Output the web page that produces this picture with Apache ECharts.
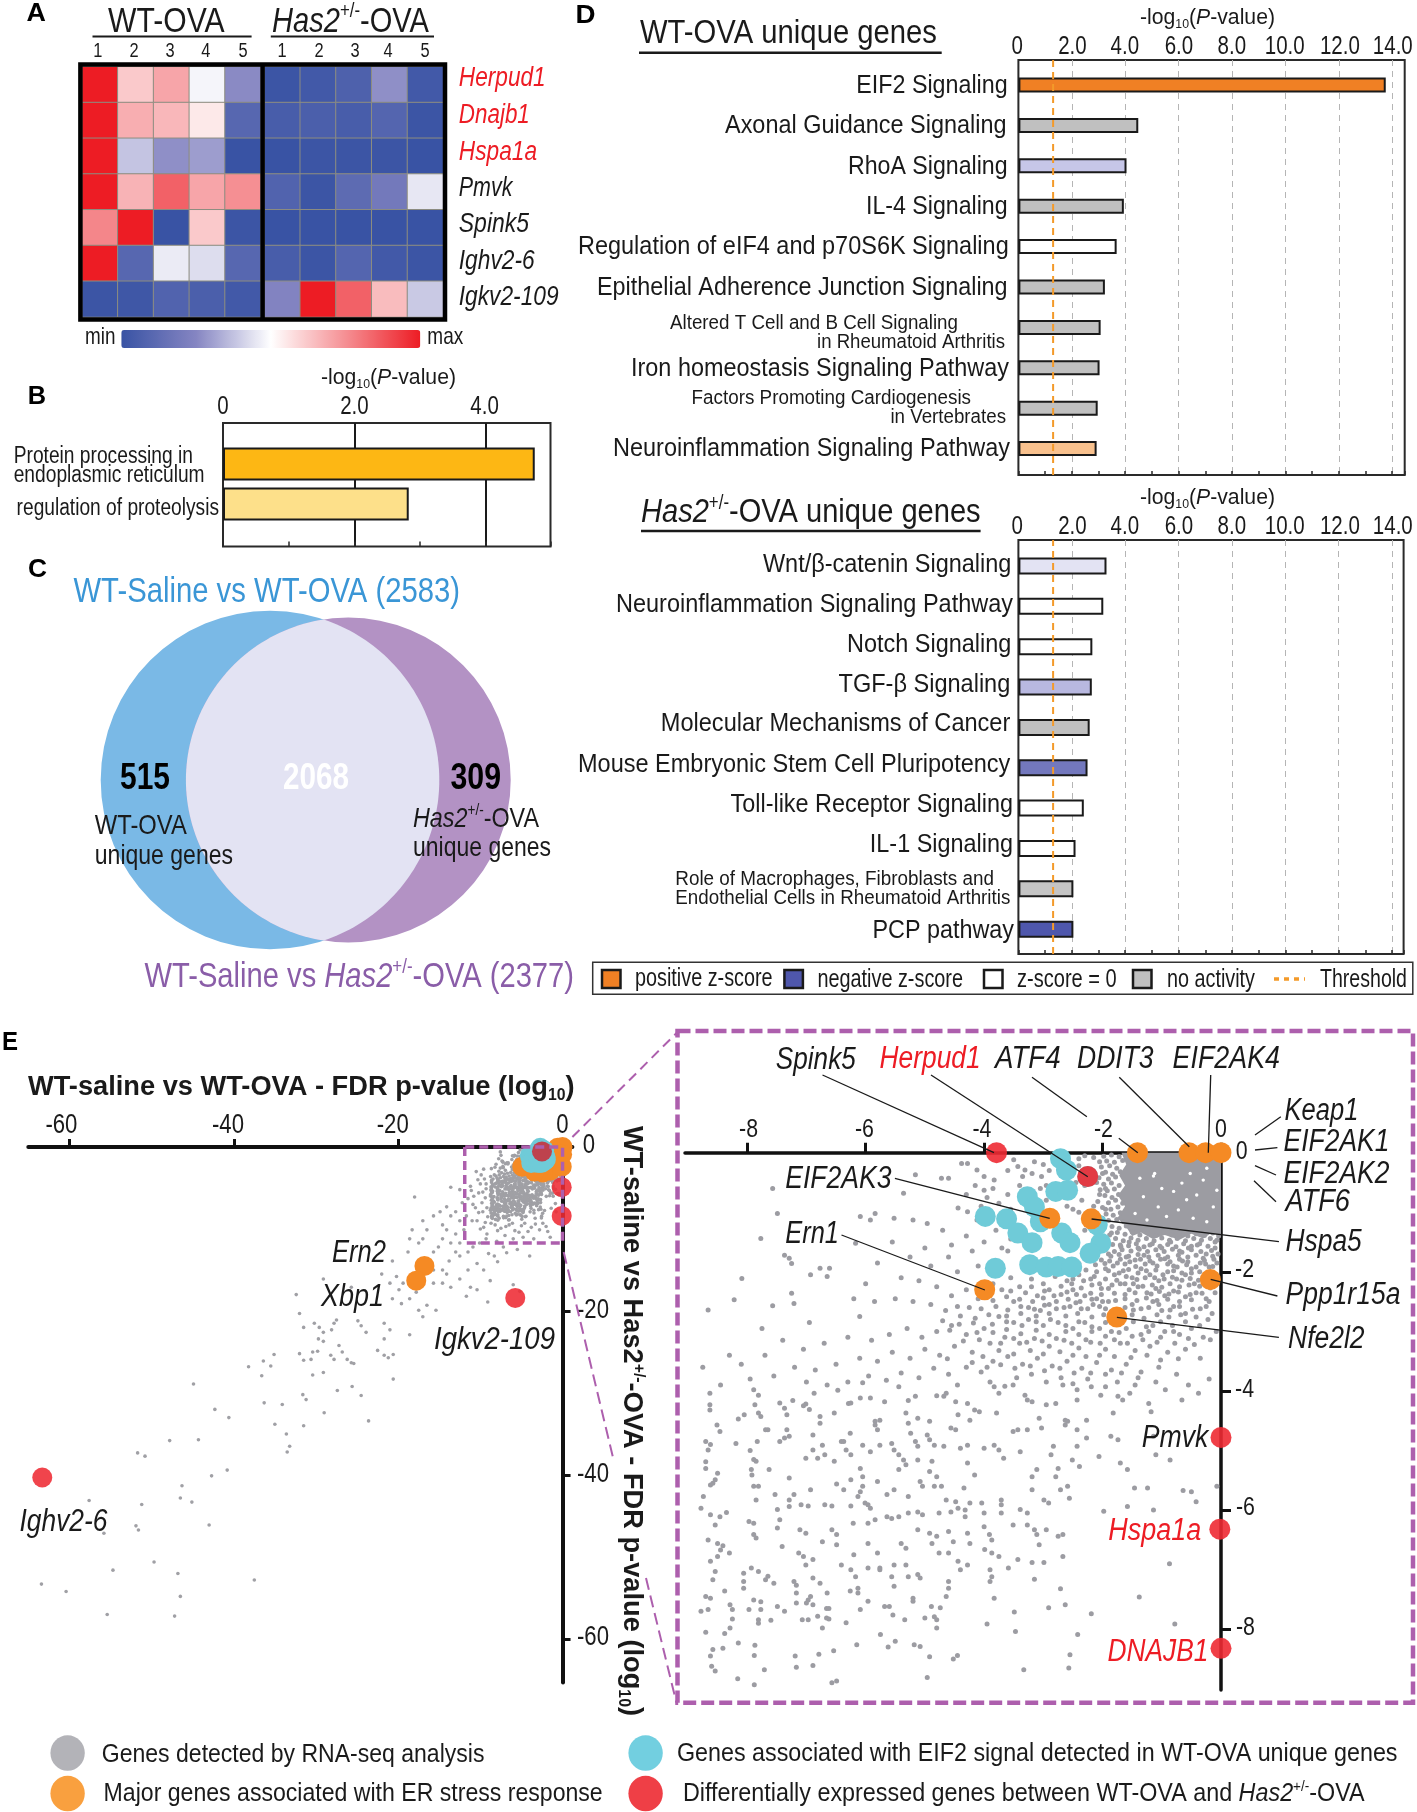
<!DOCTYPE html>
<html><head><meta charset="utf-8">
<style>html,body{margin:0;padding:0;background:#fff}#c{width:1417px;height:1812px}</style>
<script src="https://cdn.jsdelivr.net/npm/echarts@6/dist/echarts.min.js"></script>
</head><body><div id="c"></div>
<script>
// ---------- DATA ----------
const heatColumns = ['1','2','3','4','5'];
const heatGenes = ['Herpud1','Dnajb1','Hspa1a','Pmvk','Spink5','Ighv2-6','Igkv2-109'];
const heatRedGenes = ['Herpud1','Dnajb1','Hspa1a'];
const heatWT = [
 [1,.62,.70,.48,.26],[1,.68,.66,.55,.10],[1,.38,.27,.30,0],[1,.67,.85,.70,.75],
 [.77,1,0,.62,.01],[1,.10,.46,.43,.10],[.01,.02,.08,.06,.03]];
const heatHas2 = [
 [.01,.03,.07,.27,.03],[.05,.06,.05,.09,.01],[0,.01,.01,.01,0],[.08,.01,.12,.19,.45],
 [0,0,0,0,0],[.05,.01,.09,.03,.01],[.24,1,.85,.65,.39]];

const keggTerms = ['Protein processing in\nendoplasmic reticulum','regulation of proteolysis'];
const keggValues = [4.75,2.83];
const keggColors = ['#fdb714','#fde08a'];
const keggTicks = ['0','2.0','4.0'];

const vennTotals = [2583,2377];
const vennCounts = [515,2068,309];

const wtTerms = ['EIF2 Signaling','Axonal Guidance Signaling','RhoA Signaling','IL-4 Signaling','Regulation of eIF4 and p70S6K Signaling','Epithelial Adherence Junction Signaling','Altered T Cell and B Cell Signaling\nin Rheumatoid Arthritis','Iron homeostasis Signaling Pathway','Factors Promoting Cardiogenesis\nin Vertebrates','Neuroinflammation Signaling Pathway'];
const wtValues = [13.76,4.49,4.05,3.95,3.68,3.24,3.08,3.04,2.97,2.93];
const wtFill = ['#f08024','#c0c0c0','#c6c6e8','#c0c0c0','#ffffff','#c0c0c0','#c0c0c0','#c0c0c0','#c0c0c0','#f8c18e'];
const hasTerms = ['Wnt/β-catenin Signaling','Neuroinflammation Signaling Pathway','Notch Signaling','TGF-β Signaling','Molecular Mechanisms of Cancer','Mouse Embryonic Stem Cell Pluripotency','Toll-like Receptor Signaling','IL-1 Signaling','Role of Macrophages, Fibroblasts and\nEndothelial Cells in Rheumatoid Arthritis','PCP pathway'];
const hasValues = [3.30,3.18,2.77,2.75,2.67,2.59,2.45,2.14,2.06,2.06];
const hasFill = ['#e3e3f3','#ffffff','#ffffff','#b8b8e0','#c0c0c0','#7378bd','#ffffff','#ffffff','#c4c4c4','#4f57ac'];
const pathwayTicks = ['0','2.0','4.0','6.0','8.0','10.0','12.0','14.0'];
const threshold = 1.3;

const outerTicks = ['-60','-40','-20','0'];
const insetXTicks = ['-8','-6','-4','-2','0'];
const insetYTicks = ['0','-2','-4','-6','-8'];

const orangeGenes = [[-1.41,0],[-.54,0],[-.26,0],[0,0],[-2.89,-1.10],[-2.19,-1.11],[-3.99,-2.30],[-.18,-2.13],[-1.76,-2.76]];
const orangeOuter = [[-.6,-.1],[0,0],[-.05,-.9],[-.3,-2.3],[-1.5,-2.9],[-2.4,-3.1],[-3.4,-3],[-4.9,-2.4],[-.1,-2.4],[-16.8,-14.5],[-17.8,-16.3]];
const redGenes = [[-3.79,0],[-2.25,-.40],[0,-4.78],[-.02,-6.32],[0,-8.32]];
const redOuter = [[-.1,-4.9],[-.1,-8.4],[-5.75,-18.4],[-63.3,-40.3]];
const redMasked = [[-2.5,-.54]];
const cyanGenes = [[-2.71,-.10],[-2.61,-.29],[-2.25,-.40],[-2.79,-.65],[-2.59,-.63],[-3.27,-.74],[-3.15,-.91],[-3.98,-1.07],[-3.62,-1.11],[-3.05,-1.16],[-3.43,-1.35],[-3.19,-1.51],[-2.69,-1.35],[-2.55,-1.51],[-2.09,-1.21],[-2.03,-1.52],[-2.21,-1.69],[-3.81,-1.94],[-3.23,-1.88],[-2.95,-1.92],[-2.75,-1.91],[-2.52,-1.92]];
// solid mass of overlapping gene dots next to the origin, and the small gaps left in it
const denseGeneMass = [[-1.68,0],[0,0],[0,-1.42],[-.15,-1.34],[-.3,-1.44],[-.5,-1.36],[-.7,-1.46],[-.95,-1.38],[-1.15,-1.45],[-1.35,-1.34],[-1.5,-1.4],[-1.62,-1.22],[-1.75,-1.1],[-1.62,-.9],[-1.74,-.72],[-1.62,-.55],[-1.72,-.38],[-1.6,-.2]];
const denseMassGaps = [[-1.14,-.39],[-1.12,-.35],[-.8,-.65],[-.72,-.96],[-.47,-1.1],[-.24,-1.16],[-1.31,-.74],[-1.06,-.91],[-1.25,-1.13],[-.58,-.79],[-.3,-.46],[-.13,-.91],[-.07,-.63],[-1.37,-.43],[-.92,-1.07],[-.41,-.71],[-.66,-.51],[-1,-.6],[-1.45,-1.02],[-.24,-.26],[-.52,-.35]];
const genesFar = [[-63.4,-53.3],[-60.4,-54.2],[-55.4,-57],[-54.7,-51.6],[-49.7,-50.6],[-46.8,-52],[-46.5,-54.8],[-47.2,-57.2],[-37.5,-52.8],[-55.8,-47.1],[-51.9,-46.2],[-51.6,-46.7],[-43,-46.1],[-51.2,-43.6],[-45.1,-43.3],[-46.5,-42.8],[-46.3,-41.3],[-57.6,-43.1],[-42.7,-40.1],[-40.8,-39.4],[-51.7,-37.3],[-50.8,-37.7],[-47.8,-35.8],[-44.3,-35.7],[-42.3,-32],[-40.6,-33],[-44.9,-28.9],[-35,-33.8],[-36.3,-31.2],[-34.1,-31.4],[-33.6,-35],[-33.2,-36.5],[-33.5,-37.2],[-31.5,-34],[-29,-32.4],[-23.6,-33.4],[-31.6,-30.2],[-31.2,-30.8],[-27.4,-29.7],[-25.6,-29.2],[-24.5,-30.3],[-20.6,-28.3],[-38.2,-26.8],[-36.4,-26.1],[-35.5,-26.7],[-35.1,-25.3],[-36.6,-27.9],[-30.4,-27.8],[-29.1,-27.5],[-32,-25.2],[-31.5,-26],[-30.6,-25.9],[-30.4,-25],[-29.8,-24.9],[-28.2,-25.4],[-27.2,-24.2],[-26.8,-25],[-27.8,-25.9],[-26.2,-25.9],[-25.7,-26.3],[-25.4,-26.4],[-21.7,-25.4],[-21.2,-25.7],[-20.6,-25.3],[-32,-20.3],[-31.5,-22],[-30.2,-21.5],[-29.6,-22],[-29.1,-22.6],[-29.7,-23.4],[-29.1,-23.7],[-28.1,-22.3],[-27.8,-21.5],[-27.5,-21.1],[-24.9,-21.2],[-24.5,-21.8],[-23.9,-22.6],[-21.7,-21.5],[-21.7,-23.4],[-21,-22.3],[-22.5,-24.8],[-18.6,-22.9],[-32.4,-18],[-29.1,-16.1],[-25.7,-17.1],[-18.8,-12.8],[-18.6,-11.2],[-18.3,-10.1],[-18,-6.1],[-17,-9],[-16.5,-10.1],[-17.5,-11.7],[-17,-11.2],[-15.7,-8.4],[-14.9,-7.9],[-14.6,-9.5],[-13.6,-8.4],[-13.6,-4.9],[-14.1,-7.3],[-20.7,-13.9],[-20.2,-15.8],[-21,-16.6],[-22,-15.5],[-19.9,-17.4],[-20.7,-18.5],[-19.6,-19.1],[-18.6,-18.5],[-17.5,-19.9],[-17,-20.7],[-15.4,-19.9],[-16.5,-19.3],[-14.6,-15],[-14.1,-15.5],[-14.6,-16.6],[-13.8,-13.9],[-13,-12.8],[-12.5,-13.3],[-11.5,-12.8],[-10.9,-12.2],[-15.7,-12.8],[-15.1,-12.2],[-13.6,-11.7],[-12.5,-11.7],[-14.6,-11.2],[-11.5,-15],[-10.4,-14.2],[-11.2,-17.1],[-10.4,-17.4],[-9.1,-18.9],[-11.7,-18.2],[-7.2,-12.2],[-8.3,-13.3],[-10.1,-11.7],[-9.3,-11.2],[-15.7,-16.6],[-13.6,-17.1],[-12.5,-16.1],[-18.3,-17.1],[-17.8,-17.7],[-19.4,-16.6],[-15.7,-15],[-13,-10.6],[-12,-10.1],[-14.1,-10.1],[-12.5,-9],[-13,-7.9],[-11.7,-8.4],[-11.5,-6.3],[-12.2,-6.8],[-12.5,-5.2],[-10.5,-3],[-10,-4.5],[-9.6,-2.7],[-9.3,-5.1],[-10.8,-6],[-9.8,-6.8],[-9.2,-7.4],[-10.2,-8],[-11,-9],[-9.4,-9.2],[-10,-10],[-9.5,-3.9],[-11.2,-4.8],[-10.6,-7.4],[-9.1,-8.5],[-9.2,-10.6],[-8.2,-9.5],[-7.5,-9.9],[-6.5,-9.5],[-5.8,-10.2],[-5,-9.6],[-4.2,-10.3],[-3.3,-9.4],[-2.8,-10.1],[-7,-10.8],[-6,-11.2],[-4.8,-11],[-8,-11.5],[-3.5,-11.2],[-2,-9.7],[-1.5,-11],[-5.5,-12.5],[-6.8,-12.9],[-9,-13],[-4,-13.3],[-7.9,-14],[-9.6,-15],[-8.8,-16.3],[-6,-16.8],[-5.2,-17.6],[-10.2,-5.6],[-9.7,-7.9],[-10.4,-9],[-9.6,-9.8],[-10.9,-7],[-11.1,-5.3],[-9.4,-6.2],[-9.9,-3.4],[-10.3,-4],[-9.3,-4.5],[-9.7,-5.5],[-8.7,-9.3],[-7.9,-10.2],[-6.9,-9.7],[-6.1,-9.3],[-5.3,-10.4],[-4.6,-9.3],[-3.8,-9.8],[-2.4,-9.3],[-1.8,-10.3]];
const genesNearUpper = [[-4.38,-.18],[-4.28,-.18],[-4.12,-.29],[-4,-.4],[-3.83,-.46],[-3.43,-.23],[-3.31,-.29],[-3.19,-.35],[-3.03,-.4],[-3.35,-.4],[-5.16,-.37],[-7.57,-.6],[-4.72,-.43],[-4.6,-.43],[-5.36,-.68],[-4.44,-.93],[-4.28,-.99],[-4.12,-1.13],[-4,-.63],[-6.09,-1.07],[-5.84,-1.02],[-5.92,-1.13],[-5.52,-1.1],[-5.2,-1.13],[-4.96,-1.19],[-7.49,-1.02],[-7.77,-1.44],[-6.17,-1.52],[-7.37,-1.72],[-7.25,-1.86],[-7.29,-1.77],[-6.93,-2.05],[-6.77,-1.94],[-6.61,-1.94],[-6.65,-2.08],[-8.09,-2.11],[-8.22,-2.47],[-7.25,-2.36],[-7.21,-2.53],[-7.57,-2.57],[-8.66,-2.64],
[-3.6,-.3],[-3.5,-.12],[-3.15,-.15],[-3,-.2],[-2.9,-.3],[-2.4,-.1],[-2.3,-.05],[-2.15,-.08],[-2.05,-.15],[-2.4,-.22],[-2.2,-.3],[-2.45,-.5],[-2.3,-.55],[-2.1,-.5],[-2.05,-.7],[-2.35,-.8],[-2.5,-.95],[-2.6,-.9],[-2.15,-.9],[-2.4,-1],[-3.6,-.7],[-3.75,-.85],[-3.95,-.75],[-3.55,-.95],[-4.15,-.55],[-4.3,-.7],[-3.85,-.6],[-4.05,-.9],[-2.95,-.55],[-3.05,-.6],[-2.95,-.8],[-3.4,-.55],[-2,-1.1],[-2.05,-1.3],[-2.3,-1.3],[-2,-.35],[-1.95,-.6],[-1.95,-.95],[-3.55,-1.45],[-3.8,-1.3],[-4.3,-1.4],[-4.55,-1.55],[-4.7,-1.3],[-5,-1.6],[-5.25,-1.75],[-5.55,-1.5],[-5.8,-1.85],[-6,-2.2],[-4.9,-1.9],[-4.6,-1.75],[-4.2,-1.65],[-4,-1.5],[-3.7,-1.6],[-4.45,-2],[-4.1,-1.9],[-3.6,-1.65],
[-1.85,-1.35],[-1.7,-1.55],[-1.55,-1.5],[-1.4,-1.6],[-1.2,-1.55],[-1,-1.6],[-.85,-1.5],[-.7,-1.65],[-.55,-1.6],[-.4,-1.55],[-.25,-1.7],[-.1,-1.5],[-.05,-1.7],[-1.9,-1.7],[-1.75,-1.85],[-1.6,-1.75],[-1.45,-1.8],[-1.3,-1.72],[-1.15,-1.85],[-.95,-1.78],[-.8,-1.9],[-.65,-1.82],[-.5,-1.95],[-.35,-1.85],[-.2,-1.92],[-.07,-1.85],[-1.95,-1.95],[-1.8,-2.05],[-1.65,-1.98],[-1.5,-2.1],[-1.35,-1.95],[-1.2,-2.05],[-1.05,-2.15],[-.9,-2],[-.75,-2.12],[-.6,-2.05],[-.45,-2.2],[-.3,-2.1],[-.08,-2.05],[-2.4,-2.05],[-2.2,-2.12],[-2.05,-2.2],[-1.9,-2.28],[-1.7,-2.2],[-1.55,-2.3],[-1.4,-2.25],[-1.25,-2.35],[-1.1,-2.28],[-.95,-2.4],[-.8,-2.32],[-.6,-2.42],[-.42,-2.35],[-.25,-2.45],[-.1,-2.35],
[-2.6,-2.15],[-2.8,-2.08],[-3,-2.2],[-3.2,-2.12],[-3.4,-2.25],[-3.55,-2.1],[-3.7,-2.3],[-3.3,-2.35],[-3.1,-2.4],[-2.9,-2.3],[-2.7,-2.38],[-2.5,-2.3],[-2.3,-2.4],[-2.1,-2.45],[-2.9,-2.55],[-2.65,-2.6],[-2.45,-2.52],[-2.25,-2.62],[-2.05,-2.58],[-1.9,-2.5],[-1.5,-2.55],[-1.35,-2.62],[-1.15,-2.5],[-1,-2.65],[-.8,-2.58],[-.6,-2.7],[-.35,-2.62],[-.15,-2.7],[-3.5,-2.5],[-3.25,-2.6],[-3.05,-2.65],[-4.3,-2.3],[-4.55,-2.4],[-4.8,-2.25],[-5.1,-2.15],[-5.4,-2.1],[-4.9,-2.55],[-4.65,-2.65],[-4.25,-2.6],[-5.2,-2.5],[-5.5,-2.45],[-5.85,-2.5],[-6.2,-2.45],[-6.1,-2.75],
[-3.75,-2.75],[-3.5,-2.85],[-3.25,-2.8],[-3,-2.9],[-2.75,-2.85],[-2.5,-2.95],[-2.3,-2.85],[-2.05,-2.95],[-1.85,-3],[-1.6,-2.95],[-1.35,-3.05],[-1.15,-2.9],[-.95,-3],[-.7,-3.05],[-.5,-2.95],[-.3,-3.1],[-.08,-3],[-4,-2.95],[-4.3,-3.05],[-4.55,-2.9],[-4.8,-3],[-5.05,-3.1],[-5.3,-2.95],[-5.6,-3.05],[-5.9,-3.15],[-6.3,-3.1],[-6.7,-3.2],[-7.05,-3.3],[-7.4,-3.15],[-7.7,-3.4],[-8.1,-3.55],[-8.3,-3.4],[-8.75,-3.6],[-7.75,-2.95],[-6.95,-2.85],[-3.9,-3.2],[-3.65,-3.1],[-3.4,-3.2],[-3.15,-3.12],[-2.9,-3.25],[-2.65,-3.15],[-2.4,-3.28],[-2.2,-3.18],[-1.95,-3.3],[-1.7,-3.2],[-1.45,-3.32],[-1.2,-3.25],[-.9,-3.35],[-.6,-3.3],[-.35,-3.45],[-4.2,-3.35],[-4.5,-3.25],[-4.75,-3.4],[-5,-3.3],[-5.25,-3.45],[-5.55,-3.35],[-5.8,-3.5],[-6.1,-3.45],[-6.5,-3.55],[-6.85,-3.65],[-7.2,-3.6],[-7.55,-3.75],
[-3.85,-3.5],[-3.6,-3.42],[-3.35,-3.55],[-3.1,-3.45],[-2.85,-3.58],[-2.6,-3.5],[-2.35,-3.62],[-2.1,-3.52],[-1.85,-3.65],[-1.6,-3.55],[-1.35,-3.68],[-1.05,-3.6],[-.75,-3.72],[-.2,-3.8],[-4.05,-3.68],[-4.3,-3.6],[-4.6,-3.72],[-4.85,-3.62],[-5.1,-3.78],[-5.4,-3.7],[-5.65,-3.82],[-5.95,-3.75],[-6.3,-3.85],[-6.65,-3.9],[-7,-3.85],[-7.95,-3.8],[-8.45,-3.9],[-3.45,-3.78],[-3.2,-3.72],[-2.95,-3.85],[-2.7,-3.78],[-2.5,-3.88],[-2.25,-3.8],[-1.75,-3.85],[-1.45,-3.9],[-1.1,-3.85],[-.55,-3.9],[-4.45,-3.9],[-3.9,-3.85],[-3.65,-3.92]];
const genesNearLower = [[-8.63,-4.04],[-8.63,-4.23],[-8.63,-4.32],[-7.89,-3.98],[-7.87,-4.23],[-7.81,-4.07],[-8.05,-4.4],[-8.15,-4.47],[-7.81,-4.37],[-7.77,-4.43],[-7.45,-4.2],[-7.37,-4.29],[-7.33,-4.4],[-7.23,-4.16],[-7.05,-4.25],[-6.95,-4.31],[-7.01,-4.22],[-6.87,-4.04],[-6.77,-4.43],[-6.77,-4.54],[-6.47,-3.99],[-6.53,-4.37],[-6.29,-4.21],[-6.25,-4.2],[-6.05,-3.86],[-6.09,-4.12],[-5.92,-4.12],[-5.68,-4.18],[-5.76,-4.49],[-5.84,-4.51],[-5.44,-3.93],[-5.32,-4.37],[-5.28,-4.16],[-5.16,-4.09],[-5.12,-4.46],[-4.92,-4.51],[-4.8,-4.08],[-4.64,-4.04],[-4.68,-4.09],[-4.48,-4.18],[-4.44,-4.4],[-4.28,-4.21],[-4.24,-4.49],[-4.16,-4.32],[-4.08,-4.35],[-3.83,-3.93],[-3.79,-4.37],[-3.75,-4.04],[-3.51,-3.9],[-3.31,-4.07],[-3.27,-4.15],[-3.19,-4.18],[-3.07,-4.46],[-2.95,-4.23],[-2.79,-4.21],[-2.67,-3.9],[-2.63,-4.49],[-2.59,-4.51],[-2.43,-4.15],[-2.43,-3.98],[-2.27,-4.49],[-2.19,-3.93],[-2.03,-4.07],[-1.95,-3.93],[-1.74,-4.09],[-1.54,-4.04],[-1.82,-4.37],[-1.66,-4.15],[-1.22,-4.21],[-1.18,-4.35],[-.94,-3.98],[-.66,-4.15],[-.38,-4.04],
[-8.51,-4.57],[-8.46,-4.68],[-8.62,-4.9],[-8.7,-4.85],[-8.66,-4.99],[-8.7,-5.19],[-8.7,-5.3],[-8.5,-5.38],[-8.54,-5.49],[-8.62,-5.58],[-8.19,-4.88],[-7.83,-4.85],[-7.95,-5],[-7.89,-5.15],[-7.85,-5.18],[-7.63,-5.32],[-7.93,-5.32],[-7.92,-5.41],[-7.65,-4.65],[-7.69,-4.65],[-7.33,-4.65],[-7.29,-4.76],[-7.45,-4.85],[-7.37,-4.79],[-6.89,-4.74],[-7.01,-5.13],[-6.89,-4.99],[-6.73,-4.91],[-6.69,-5.07],[-6.81,-5.13],[-6.53,-5.18],[-6.37,-4.85],[-6.33,-4.99],[-6.25,-5.07],[-6.41,-4.85],[-6.26,-4.71],[-6.05,-4.91],[-5.92,-5.02],[-6.09,-5.3],[-6.05,-5.44],[-5.76,-4.91],[-5.8,-4.65],[-5.84,-4.57],[-5.56,-4.88],[-5.52,-4.99],[-5.44,-5.07],[-5.36,-5.16],[-5.32,-5.24],[-5.44,-5.32],[-5.24,-4.71],[-5.16,-4.85],[-5.12,-4.93],[-5.28,-4.54],[-5.12,-5.16],[-4.96,-4.74],[-4.92,-4.82],[-4.84,-4.91],[-4.88,-5.18],[-4.92,-5.35],[-4.8,-5.44],[-4.68,-4.93],[-4.56,-4.62],[-4.48,-4.65],[-4.4,-4.96],[-4.28,-4.91],[-4.28,-5.21],[-4.16,-5.41],[-4,-4.96],[-3.83,-4.91],[-3.75,-4.99],[-3.67,-5.13],[-3.51,-4.68],[-3.43,-4.65],[-3.39,-5.02],[-3.27,-4.65],[-3.03,-4.62],[-2.87,-5.07],[-2.83,-4.93],[-2.75,-5.3],[-2.79,-5.44],[-2.63,-4.57],[-2.43,-4.65],[-2.43,-4.93],[-2.39,-5.27],[-2.27,-4.79],[-2.51,-5.16],[-2.06,-5.1],[-1.86,-4.76],[-1.74,-4.82],[-1.7,-5.21],[-1.58,-5.32],[-1.1,-5.07],[-.86,-5.16],[-1.14,-4.76],[-3.11,-5.32],[-3.19,-5.44],
[-8.74,-5.77],[-8.58,-5.55],[-7.89,-5.6],[-7.81,-5.6],[-7.85,-5.83],[-7.53,-5.74],[-7.21,-5.74],[-7.29,-5.83],[-7.29,-5.46],[-6.93,-5.66],[-6.49,-5.56],[-6.37,-5.66],[-6.25,-5.49],[-6.05,-5.6],[-6.09,-5.69],[-6.13,-5.77],[-6.01,-5.88],[-5.8,-5.52],[-5.64,-5.74],[-5.52,-5.66],[-5.28,-5.77],[-5.08,-5.52],[-5.04,-5.6],[-4.84,-5.6],[-4.72,-5.6],[-4.34,-5.63],[-4.64,-5.83],[-4.48,-5.86],[-4.24,-5.88],[-4.04,-5.88],[-3.71,-5.83],[-3.71,-5.91],[-3.19,-5.66],[-2.99,-5.83],[-2.91,-5.88],[-2.71,-5.66],[-2.56,-5.8],[-2.59,-5.6],[-1.46,-5.63],[-1.24,-5.63],[-.64,-5.67],[-.5,-5.69],[-.42,-5.86],[-.07,-5.6],[-7.49,-5.99],[-7.29,-5.94],[-7.09,-5.91],[-6.97,-5.93],[-6.69,-5.91],[-6.57,-5.93],[-6.25,-5.93],[-5.96,-5.91],[-5.92,-5.97],
[-8.78,-5.97],[-8.62,-6.08],[-8.46,-6.11],[-8.35,-6.04],[-8.54,-6.25],[-7.97,-6.19],[-7.89,-6.22],[-7.89,-6.41],[-7.85,-6.47],[-7.49,-6.3],[-7.45,-6.16],[-7.11,-6.33],[-7.01,-6.39],[-6.73,-6.53],[-6.57,-6.33],[-6.49,-6.41],[-6.49,-6.58],[-7.41,-6.61],[-8.66,-6.5],[-8.5,-6.56],[-8.41,-6.6],[-8.45,-6.67],[-6.21,-6.22],[-5.96,-6.22],[-5.84,-6.16],[-5.64,-6.11],[-5.56,-6.14],[-5.44,-6.11],[-5.28,-6.05],[-5.12,-6.03],[-5.04,-6.08],[-4.76,-6.05],[-4.56,-6.03],[-4.32,-6],[-4.44,-5.97],[-4.32,-6.11],[-4,-6.05],[-3.71,-6.05],[-3.39,-5.99],[-3.27,-6.05],[-1.98,-6.02],[-1.58,-5.94],[-1.14,-6],[-5.96,-6.56],[-5.4,-6.56],[-5.32,-6.64],[-5.12,-6.33],[-4.92,-6.39],[-4.8,-6.44],[-4.88,-6.56],[-4.6,-6.36],[-4.52,-6.53],[-4.28,-6.39],[-4.24,-6.56],[-4,-6.28],[-3.91,-6.41],[-3.87,-6.5],[-3.51,-6.25],[-3.27,-6.25],[-3.15,-6.33],[-3.11,-6.41],[-2.95,-6.33],[-3.07,-6.58],[-2.75,-6.44],[-2.67,-6.41],
[-8.3,-6.72],[-8.5,-6.78],[-8.62,-6.86],[-7.13,-6.72],[-6.89,-6.83],[-7.01,-6.92],[-7.05,-6.78],[-8.54,-7.03],[-8.58,-7.17],[-8.06,-7.06],[-8.06,-7.2],[-8.06,-7.31],[-7.93,-6.97],[-7.81,-7.03],[-7.65,-7.11],[-7.69,-7.17],[-7.55,-7.23],[-7.21,-7.2],[-7.17,-7.26],[-6.89,-7.14],[-6.77,-7.23],[-6.65,-7.39],[-7.17,-7.39],[-6.93,-7.45],[-6.97,-7.51],[-6.2,-6.75],[-6.41,-6.92],[-6.25,-7],[-6.17,-7.12],[-5.96,-6.97],[-5.76,-6.97],[-5.56,-7.12],[-5.52,-6.92],[-5.32,-6.92],[-5.28,-7.12],[-5.12,-7.08],[-5.08,-7.14],[-5.76,-7],[-5.8,-6.72],[-4.6,-6.72],[-4.76,-6.72],[-4.44,-6.86],[-4.28,-6.92],[-4.4,-7],[-3.99,-6.66],[-3.87,-6.72],[-3.75,-6.78],[-3.9,-7],[-3.87,-7.12],[-3.9,-7.2],[-3.59,-6.97],[-3.43,-6.83],[-3.19,-6.88],[-2.99,-6.88],[-2.67,-6.78],[-3.15,-7.16],[-4.6,-7.2],[-4.6,-7.31],[-4.64,-7.45],[-6.13,-7.31],[-6.13,-7.39],[-6.26,-7.36],[-5.52,-7.28],[-5.2,-7.48],[-2.71,-7.32],[-.87,-6.9],[-1.38,-7.46],[-3.83,-7.48],
[-8.7,-7.45],[-8.62,-7.48],[-8.38,-7.36],[-8.78,-7.7],[-8.66,-7.67],[-8.29,-7.59],[-8.25,-7.67],[-8.25,-7.83],[-8.29,-7.98],[-8.38,-8.07],[-8.7,-8.05],[-7.97,-7.67],[-7.89,-7.51],[-7.77,-7.54],[-7.77,-7.67],[-7.81,-7.84],[-7.81,-7.9],[-7.6,-7.85],[-7.37,-7.7],[-7.49,-7.62],[-7.17,-7.56],[-7,-7.56],[-6.89,-7.59],[-6.66,-7.65],[-6.62,-7.65],[-7.07,-7.84],[-6.97,-7.84],[-6.81,-7.78],[-6.66,-7.81],[-6.62,-7.83],[-6.73,-7.98],[-6.33,-7.89],[-6.09,-7.67],[-5.96,-7.53],[-5.68,-7.62],[-5.6,-7.62],[-5.54,-7.76],[-5.34,-7.84],[-5.2,-7.53],[-5,-7.81],[-4.84,-7.79],[-4.8,-7.84],[-4.8,-7.98],[-4.89,-7.62],[-4.74,-7.64],[-3.95,-7.91],[-3.49,-7.71],[-3.47,-8.04],[-2.91,-7.64],[-2.63,-7.59],[-2.19,-7.74],[-2.42,-8.09],[-.78,-7.91],
[-8.58,-8.34],[-8.41,-8.32],[-8.62,-8.45],[-8.6,-8.62],[-8.54,-8.7],[-8.15,-8.23],[-8.16,-8.83],[-7.87,-8.27],[-7.88,-8.44],[-7.88,-8.93],[-7.71,-8.68],[-7.19,-8.45],[-7.17,-8.64],[-6.89,-8.61],[-6.79,-8.42],[-6.54,-8.36],[-6.57,-8.9],[-6.49,-8.87],[-6.15,-8.26],[-5.75,-8.09],[-5.62,-8.3],[-5.5,-8.2],[-5.18,-8.26],[-5.08,-8.29],[-4.92,-8.46],[-4.96,-8.81],[-4.52,-8.5],[-4.45,-8.44],[-3.33,-8.68],[-2.55,-8.43],[-2.57,-8.65]];
const genesCorner = [[-1.98,-.06],[-1.85,-.04],[-1.72,-.07],[-1.93,-.14],[-1.8,-.16],[-1.66,-.13],[-2.02,-.24],[-1.88,-.22],[-1.76,-.26],[-1.95,-.33],[-1.83,-.36],[-1.7,-.32],[-2.06,-.42],[-1.9,-.44],[-1.78,-.41],[-1.98,-.53],[-1.85,-.51],[-1.72,-.55],[-2.04,-.62],[-1.92,-.64],[-1.8,-.61],[-1.96,-.72],[-1.84,-.75],[-1.73,-.7],[-2.08,-.82],[-1.9,-.84],[-1.78,-.8],[-1.66,-.85],[-2,-.92],[-1.86,-.95],[-1.74,-.91],[-1.94,-1.03],[-1.82,-1.05],[-1.7,-1.01],[-1.9,-1.14],[-1.76,-1.12],[-1.64,-1.16],[-1.84,-1.24],[-1.72,-1.27],[-1.6,-1.23],[-1.48,-1.26],
[-1.88,-1.38],[-1.75,-1.34],[-1.62,-1.37],[-1.5,-1.33],[-1.37,-1.38],[-1.23,-1.35],[-1.1,-1.39],[-.97,-1.34],[-.83,-1.38],[-.7,-1.35],[-.56,-1.4],[-.42,-1.36],[-.28,-1.39],[-.14,-1.35],[-.04,-1.4],[-1.92,-1.47],[-1.78,-1.44],[-1.65,-1.48],[-1.52,-1.43],[-1.4,-1.47],[-1.26,-1.44],[-1.13,-1.48],[-1,-1.43],[-.87,-1.47],[-.74,-1.44],[-.6,-1.48],[-.46,-1.44],[-.33,-1.47],[-.18,-1.44],[-.07,-1.47],[-1.83,-1.54],[-1.69,-1.58],[-1.56,-1.56],[-1.43,-1.53],[-1.3,-1.58],[-1.16,-1.53],[-1.03,-1.57],[-.9,-1.54],[-.76,-1.58],[-.63,-1.53],[-.5,-1.57],[-.36,-1.53],[-.22,-1.57],[-.1,-1.6],[-1.95,-1.63],[-1.8,-1.66],[-1.67,-1.63],[-1.52,-1.65],[-1.38,-1.62],[-1.24,-1.66],[-1.1,-1.63],[-.96,-1.66],[-.82,-1.62],[-.66,-1.67],[-.5,-1.63],[-.34,-1.66],[-.16,-1.64],
[-1.86,-1.74],[-1.72,-1.71],[-1.56,-1.74],[-1.4,-1.71],[-1.22,-1.75],[-1.06,-1.72],[-.9,-1.75],[-.72,-1.72],[-.56,-1.75],[-.42,-1.72],[-.3,-1.77],[-.14,-1.74],[-2.02,-1.8],[-1.88,-1.82],[-1.7,-1.79],[-1.54,-1.83],[-1.36,-1.79],[-1.2,-1.82],[-1.02,-1.79],[-.86,-1.83],[-.7,-1.79],[-.56,-1.83],[-.28,-1.81],[-.12,-1.79],[-2.4,-1.86],[-2.12,-1.88],[-1.96,-1.86],[-1.82,-1.9],[-1.62,-1.87],[-1.44,-1.91],[-1.28,-1.87],[-1.08,-1.9],[-.9,-1.87],[-.74,-1.92],[-.58,-1.88],[-.42,-1.92],[-.26,-1.87],[-.14,-1.91],[-2.28,-1.97],[-2.1,-2],[-1.9,-1.98],[-1.72,-2.02],[-1.56,-1.96],[-1.4,-2.02],[-1.26,-1.98],[-1.1,-1.97],[-.98,-2.05],[-.8,-1.98],[-.66,-2.02],[-.5,-2.02],[-.36,-2],[-.18,-2.03],
[-2.5,-2.12],[-2.32,-2.15],[-2.14,-2.08],[-1.95,-2.12],[-1.76,-2.14],[-1.6,-2.08],[-1.42,-2.13],[-1.28,-2.1],[-1.12,-2.1],[-.96,-2.12],[-.82,-2.09],[-.66,-2.14],[-.52,-2.11],[-.38,-2.14],[-.22,-2.16],[-2.7,-2.24],[-2.52,-2.2],[-2.36,-2.27],[-2.18,-2.22],[-2.02,-2.28],[-1.84,-2.22],[-1.62,-2.2],[-1.48,-2.2],[-1.32,-2.24],[-1.16,-2.22],[-1,-2.26],[-.86,-2.2],[-.7,-2.25],[-.54,-2.22],[-.36,-2.24],[-.18,-2.27],[-3.85,-2.2],[-3.55,-2.32],[-3.2,-2.25],[-2.98,-2.32],[-2.82,-2.4],[-2.6,-2.34],[-2.44,-2.38],[-2.2,-2.36],[-2.02,-2.38],[-1.8,-2.36],[-1.62,-2.38],[-1.45,-2.35],[-1.18,-2.37],[-1.04,-2.33],[-.88,-2.37],[-.72,-2.34],[-.52,-2.38],[-.32,-2.36],
[-4.1,-2.45],[-3.85,-2.48],[-3.62,-2.42],[-3.4,-2.46],[-3.18,-2.5],[-3,-2.44],[-2.78,-2.5],[-2.58,-2.46],[-2.38,-2.5],[-2.18,-2.46],[-2,-2.5],[-1.78,-2.48],[-1.62,-2.45],[-1.42,-2.48],[-1.26,-2.44],[-1.08,-2.48],[-.9,-2.46],[-.7,-2.5],[-.5,-2.47],[-.2,-2.5],[-4.45,-2.58],[-4.05,-2.62],[-3.8,-2.58],[-3.6,-2.64],[-3.38,-2.58],[-3.15,-2.63],[-2.98,-2.56],[-2.78,-2.62],[-2.55,-2.58],[-2.36,-2.62],[-2.16,-2.55],[-1.95,-2.62],[-1.62,-2.6],[-1.48,-2.64],[-1.22,-2.6],[-1.05,-2.55],[-.86,-2.64],[-.7,-2.58],[-.48,-2.63],[-.25,-2.58],
[-4.4,-2.74],[-4.15,-2.78],[-3.92,-2.72],[-3.62,-2.74],[-3.38,-2.7],[-3.12,-2.74],[-2.9,-2.7],[-2.62,-2.74],[-2.42,-2.7],[-2.18,-2.76],[-1.98,-2.72],[-1.5,-2.72],[-1.3,-2.78],[-1.08,-2.72],[-.88,-2.76],[-.68,-2.72],[-.42,-2.76],[-.22,-2.8],[-4.7,-2.82],[-4.42,-2.88],[-4.18,-2.86],[-3.86,-2.88],[-3.62,-2.84],[-3.36,-2.9],[-3.12,-2.84],[-2.88,-2.8],[-2.62,-2.9],[-2.4,-2.84],[-2.18,-2.92],[-1.95,-2.85],[-1.72,-2.88],[-1.48,-2.84],[-1.26,-2.92],[-1.02,-2.84],[-.82,-2.9],[-.6,-2.84],[-.36,-2.9],
[-4.58,-2.98],[-4.12,-3.02],[-3.85,-3.02],[-3.62,-2.97],[-3.38,-3.04],[-3.12,-2.98],[-2.9,-3.05],[-2.62,-3],[-2.4,-3.05],[-2.18,-3],[-1.95,-3.08],[-1.72,-3.02],[-1.5,-3.08],[-1.22,-3],[-1.02,-3.1],[-.8,-3],[-.55,-3.12],[-.18,-3.14],[-4.35,-3.16],[-4.08,-3.14],[-3.72,-3.2],[-3.5,-3.12],[-3.28,-3.18],[-3.02,-3.16],[-2.78,-3.12],[-2.52,-3.2],[-2.28,-3.14],[-2.04,-3.2],[-1.8,-3.14],[-1.58,-3.2],[-1.32,-3.14],[-1.08,-3.18],[-.78,-3.2],[-.45,-3.22],
[-4.62,-3.46],[-4.02,-3.42],[-3.75,-3.32],[-3.5,-3.38],[-3.22,-3.32],[-3,-3.38],[-2.72,-3.34],[-2.5,-3.4],[-2.28,-3.42],[-2.05,-3.4],[-1.8,-3.42],[-1.52,-3.44],[-1.25,-3.4],[-1.02,-3.48],[-.72,-3.46],[-4.2,-3.52],[-3.95,-3.6],[-3.72,-3.56],[-3.48,-3.62],[-3.22,-3.58],[-2.98,-3.66],[-2.72,-3.62],[-2.48,-3.7],[-2.2,-3.7],[-1.95,-3.72],[-1.68,-3.7],[-1.4,-3.78]];
const genesNear = genesNearUpper.concat(genesCorner,genesNearLower);
const genesAll = genesFar.concat(genesNear);

// ---------- STYLE ----------
const SANS = '"Liberation Sans",Arial,sans-serif';
const INK = '#1a1a1a', PURPLE='#ad5fad';
const TEXT_DY = 3;
const ctx = document.createElement('canvas').getContext('2d');
function meas(t,size,w,s){ctx.font=`${s||'normal'} ${w||'normal'} ${size}px "Liberation Sans"`;return ctx.measureText(t).width;}
const G = [];
function T(str,x0,x1,yc,size,o={}){
  const m = meas(str,size,o.weight,o.italic?'italic':'');
  G.push({type:'text',x:x0,y:yc+TEXT_DY,scaleX:(x1-x0)/m,z:100,silent:true,style:{text:str,x:0,y:0,fontFamily:SANS,fontSize:size,fontWeight:o.weight||'normal',fontStyle:o.italic?'italic':'normal',fill:o.color||INK,align:'left',verticalAlign:'middle',textAlign:'left',textVerticalAlign:'middle'}});
}
function TC(str,xc,yc,size,sx=.82){const w=meas(str,size)*sx;T(str,xc-w/2,xc+w/2,yc,size);}
function RT(segs,x0,x1,yc,size,o={}){
  const w=o.weight||'normal', col=o.color||INK, small=size*.58;
  let m=0, str='';
  segs.forEach(([t,k])=>{m+=meas(t,(k==='s'||k==='b')?small:size,w,k==='i'?'italic':'');str+=`{${k}|${t}}`;});
  const base={fontFamily:SANS,fontWeight:w,fill:col,lineHeight:size*1.15};
  G.push({type:'text',x:x0,y:o.rot?yc:yc+TEXT_DY,scaleX:(x1-x0)/m,rotation:o.rot||0,z:100,silent:true,style:{text:str,x:0,y:0,fontFamily:SANS,fontSize:size,align:'left',verticalAlign:'middle',textAlign:'left',textVerticalAlign:'middle',rich:{
    n:{...base,fontSize:size,verticalAlign:'middle'},
    i:{...base,fontSize:size,fontStyle:'italic',verticalAlign:'middle'},
    s:{...base,fontSize:small,verticalAlign:'top'},
    b:{...base,fontSize:small,verticalAlign:'bottom'}}}});
}
function L(x1,y1,x2,y2,o={}){G.push({type:'line',z:o.z||100,silent:true,shape:{x1,y1,x2,y2},style:{stroke:o.color||INK,lineWidth:o.w||1.3,lineDash:o.dash||null}});}
function R(x,y,w,h,o={}){G.push({type:'rect',z:o.z||100,silent:true,shape:{x,y,width:w,height:h},style:{fill:o.fill||'none',stroke:o.stroke||INK,lineWidth:o.w==null?2:o.w,lineDash:o.dash||null}});}
function C(cx,cy,rx,ry,fill){G.push({type:'ellipse',z:100,silent:true,shape:{cx,cy,rx,ry},style:{fill}});}

const grids=[],xAxes=[],yAxes=[],series=[];
function addGrid(g,x,y){grids.push(Object.assign({containLabel:false},g));const i=grids.length-1;x.gridIndex=i;y.gridIndex=i;xAxes.push(x);yAxes.push(y);return {g:i,x:xAxes.length-1,y:yAxes.length-1};}
const hiddenV=(min,max,extra)=>Object.assign({type:'value',show:false,min,max,splitLine:{show:false}},extra||{});

// ---------- A heatmaps ----------
function heatPanel(left,rows){
  const a=addGrid({left,top:66.8,width:178.7,height:250.2},
    {type:'category',data:heatColumns,position:'top',axisLine:{show:false},axisTick:{show:false},splitLine:{show:false},axisLabel:{show:false}},
    {type:'category',data:heatGenes,inverse:true,axisLine:{show:false},axisTick:{show:false},splitLine:{show:false},axisLabel:{show:false}});
  const data=[];rows.forEach((r,j)=>r.forEach((v,i)=>data.push([i,j,v])));
  series.push({type:'heatmap',xAxisIndex:a.x,yAxisIndex:a.y,data,silent:true,itemStyle:{borderColor:'#8d8d80',borderWidth:1},progressive:0,animation:false});
}
heatPanel(82.1,heatWT);
heatPanel(264.5,heatHas2);

// ---------- shared bar-panel ----------
function barPanel(fr,inner,max,majorStep,terms,values,fills,barH,tickLen,gridCol,gridType,hasThreshold){
  const frame=addGrid({show:true,left:fr.left,top:fr.top,width:fr.width,height:fr.height,borderColor:'#2a2a2a',borderWidth:2,backgroundColor:'transparent'},
    {type:'value',position:'top',min:0,max,interval:1,
     axisLine:{show:false},axisTick:{show:true,length:tickLen,lineStyle:{color:'#2a2a2a',width:1.5}},splitLine:{show:false},axisLabel:{show:false}},
    hiddenV(0,1));
  xAxes.push({type:'value',gridIndex:frame.g,position:'bottom',min:0,max,interval:majorStep,axisLine:{show:false},axisTick:{show:false},axisLabel:{show:false},
     splitLine:{show:true,showMinLine:false,showMaxLine:false,lineStyle:{color:gridCol,type:gridType,width:gridType==='solid'?2:1}}});
  const bars=addGrid({left:fr.left,top:inner.top,width:fr.width,height:inner.height},
    hiddenV(0,max),
    {type:'category',inverse:true,data:terms,axisLine:{show:false},axisTick:{show:false},splitLine:{show:false},axisLabel:{show:false}});
  series.push({type:'bar',xAxisIndex:bars.x,yAxisIndex:bars.y,barWidth:barH,silent:true,z:3,animation:false,
    data:values.map((v,i)=>({value:v,itemStyle:{color:fills[i],borderColor:'#1a1a1a',borderWidth:2}}))});
  if(hasThreshold){
    series.push({type:'line',xAxisIndex:frame.x,yAxisIndex:frame.y,symbol:'none',silent:true,z:6,animation:false,
      data:[[threshold,0],[threshold,1]],lineStyle:{color:'#f39a2a',width:2,type:[7,5]}});
  }
}
barPanel({left:223,top:423,width:327.5,height:123.4},{top:444,height:80},4.99,2,keggTerms,keggValues,keggColors,33,5,'#1a1a1a','solid',false);
barPanel({left:1018.4,top:60,width:386.3,height:415},{top:64.8,height:404},14.47,2,wtTerms,wtValues,wtFill,15,4,'#b5b5b5',[6,5],true);
barPanel({left:1018.4,top:540,width:385.2,height:414},{top:545.8,height:403.5},14.43,2,hasTerms,hasValues,hasFill,17,4,'#b5b5b5',[6,5],true);

// ---------- C venn ----------
const vennK = 3.331;
const vennGeo = [[170,180,vennTotals[0]],[248.3,180,vennTotals[1]]];
const venn=addGrid({left:100,top:600,width:420,height:360},hiddenV(0,420),hiddenV(0,360));
series.push({type:'custom',xAxisIndex:venn.x,yAxisIndex:venn.y,coordinateSystem:'cartesian2d',silent:true,z:2,animation:false,data:vennGeo,
  renderItem:function(p,api){
    const c=api.coord([api.value(0),api.value(1)]),r=vennK*Math.sqrt(api.value(2));
    const isL=p.dataIndex===0;
    const circ={type:'circle',shape:{cx:c[0],cy:c[1],r},style:{fill:isL?'#7ab9e6':'#b392c4'}};
    if(isL) return circ;
    const a0=api.coord([vennGeo[0][0],vennGeo[0][1]]),r0=vennK*Math.sqrt(vennGeo[0][2]);
    const d=c[0]-a0[0],a=(d*d+r0*r0-r*r)/(2*d),h=Math.sqrt(r0*r0-a*a);
    const angR=Math.atan2(h,a-d),angL=Math.atan2(h,a),pts=[];
    for(let i=0;i<=90;i++){const t=angR+(2*Math.PI-2*angR)*i/90;pts.push([c[0]+r*Math.cos(t),c[1]+r*Math.sin(t)]);}
    for(let i=0;i<=90;i++){const t=-angL+2*angL*i/90;pts.push([a0[0]+r0*Math.cos(t),a0[1]+r0*Math.sin(t)]);}
    return {type:'group',children:[circ,{type:'polygon',shape:{points:pts},style:{fill:'#e3e3f3'}}]};
  }});

// ---------- E scatter panels ----------
function scatterPanel(grid,xr,yr,xt,yt,tick,lineW,pts,ptSize,ptColor,mark,layers,gaps){
  const p=addGrid(grid,
    {type:'value',position:'top',min:xr[0],max:xr[1],axisLine:{show:true,onZero:true,lineStyle:{color:'#111',width:lineW}},
     axisTick:{show:true,customValues:xt,length:tick,lineStyle:{color:'#111',width:3}},splitLine:{show:false},axisLabel:{show:false}},
    {type:'value',position:'right',min:yr[0],max:yr[1],axisLine:{show:true,onZero:true,lineStyle:{color:'#111',width:lineW}},
     axisTick:{show:true,customValues:yt,length:tick,lineStyle:{color:'#111',width:3}},splitLine:{show:false},axisLabel:{show:false}});
  series.push({type:'custom',xAxisIndex:p.x,yAxisIndex:p.y,coordinateSystem:'cartesian2d',silent:true,z:1,animation:false,clip:false,data:denseGeneMass,
    renderItem:function(q,api){ if(q.dataIndex!==0) return null;
      return {type:'polygon',shape:{points:denseGeneMass.map(d=>api.coord(d))},style:{fill:ptColor}};}});
  series.push({type:'scatter',xAxisIndex:p.x,yAxisIndex:p.y,data:pts,symbolSize:ptSize,silent:true,z:2,clip:false,animation:false,itemStyle:{color:ptColor,opacity:1}});
  if(gaps) series.push({type:'scatter',xAxisIndex:p.x,yAxisIndex:p.y,data:gaps,symbolSize:3.4,silent:true,z:2,clip:false,animation:false,itemStyle:{color:'#fff',opacity:1}});
  layers.forEach((l,i)=>series.push({type:'scatter',xAxisIndex:p.x,yAxisIndex:p.y,data:l[0],symbolSize:mark,silent:true,z:3+i,clip:false,animation:false,itemStyle:{color:l[1],opacity:l[2]}}));
  return p;
}
const outerP=scatterPanel({left:28.3,top:1147,width:544.1,height:535.5},[-65,1.2],[-65.3,0],[-60,-40,-20,0],[-60,-40,-20,0],8,4,genesAll,3.6,'#a0a0a5',20,
  [[orangeOuter,'#f58a24',1],[cyanGenes,'#6fcbd8',1],[redMasked,'#c23a46',.95],[redOuter,'#ee2a33',.88]]);
series.push({type:'line',xAxisIndex:outerP.x,yAxisIndex:outerP.y,symbol:'none',silent:true,z:7,animation:false,clip:false,
  data:[[-11.9,0],[-11.9,-11.7],[0,-11.7],[0,0],[-11.9,0]],lineStyle:{color:PURPLE,width:3.5,type:[9,5]}});
scatterPanel({left:685,top:1152.7,width:536,height:537.3},[-9.05,0],[-9.02,0],[-8,-6,-4,-2,0],[-8,-6,-4,-2,0],10,3.5,genesNear,5,'#9c9ca2',21,
  [[cyanGenes,'#6fcbd8',1],[orangeGenes,'#f58a24',1],[redGenes,'#ee2a33',.9]],denseMassGaps);

// ---------- TEXT ----------
T('A',26.6,46,11.3,26,{weight:'bold',color:'#000'});
T('B',27.7,46,393.4,26,{weight:'bold',color:'#000'});
T('C',28,47,567,26,{weight:'bold',color:'#000'});
T('D',575.4,595.4,13,26,{weight:'bold',color:'#000'});
T('E',2,18,1040,26,{weight:'bold',color:'#000'});
T('WT-OVA',108,224.6,19,35);
RT([['Has2','i'],['+/-','s'],['-OVA','n']],272,429,19,35);
L(92.5,36.4,251.6,36.4,{w:2});L(270.8,36.4,434,36.4,{w:2});
R(80.4,64.5,364.6,254.9,{w:4.5,stroke:'#000'});
L(262.6,64.5,262.6,319,{w:4.5,color:'#000'});
[97.7,134,170,205.7,243].forEach((x,i)=>TC(heatColumns[i],x,48,20));
[282,319,355,388,425].forEach((x,i)=>TC(heatColumns[i],x,48,20));
[[458.8,545.7,76.8],[458.8,529.8,113],[458.8,537,150],[458.8,512.4,186.4],[458.8,529,222.5],[458.8,534.6,259],[458.8,558.6,295]].forEach((b,i)=>T(heatGenes[i],b[0],b[1],b[2]-1,27,{italic:true,color:heatRedGenes.includes(heatGenes[i])?'#ed1c24':INK}));
T('min',85,115.4,334,24);T('max',427.3,463.2,334,24);
// B
const logSegs=[['-log','n'],['10','b'],['(','n'],['P','i'],['-value)','n']];
RT(logSegs,321,456,375,22);
[223,354.4,484.6].forEach((x,i)=>TC(keggTicks[i],x,404,25));
const keggLines=keggTerms.join('\n').split('\n');
[[13.7,193,454],[13.7,204.6,473],[16.6,219,506]].forEach((b,i)=>T(keggLines[i],b[0],b[1],b[2],23));
// C
T('WT-Saline vs WT-OVA (2583)',73.5,460,589.7,35,{color:'#3a96d6'});
RT([['WT-Saline vs ','n'],['Has2','i'],['+/-','s'],['-OVA (2377)','n']],144.5,574,974.7,35,{color:'#8a5da8'});
T(String(vennCounts[0]),120,170,776,37,{weight:'bold',color:'#000'});
T(String(vennCounts[1]),283,349,776,37,{weight:'bold',color:'#fff'});
T(String(vennCounts[2]),450.5,501,776,37,{weight:'bold',color:'#000'});
T('WT-OVA',94.8,186.8,823,28);T('unique genes',94.8,233,853,28);
RT([['Has2','i'],['+/-','s'],['-OVA','n']],413,539,816,28);T('unique genes',413,551,845,28);
// D
T('WT-OVA unique genes',640,937,31,34);L(639,52.7,941.7,52.7,{w:2.5});
RT(logSegs,1140,1275,15,22);
RT([['Has2','i'],['+/-','s'],['-OVA unique genes','n']],641,980.6,509.7,34);L(641,531,980.6,531,{w:2.5});
RT(logSegs,1140,1275,495,22);
[1017.3,1072.4,1124.8,1178.9,1231.8,1284.7,1339.9,1392.8].forEach((x,i)=>{TC(pathwayTicks[i],x,44,25);TC(pathwayTicks[i],x,524,25);});
const wtLines=wtTerms.join('\n').split('\n');
[[856.3,1007.6,85],[725,1006.5,124.3],[848,1007.6,165.7],[866,1007.6,205.7],[578,1008.7,246],[597,1007.6,286.7],[670,958,321.7,20],[817,1005,340.7,20],[631,1009,367.3],[691.6,971,396.7,20],[890.4,1006,416,20],[613,1010,447.7]].forEach((b,i)=>T(wtLines[i],b[0],b[1],b[2]-1.5,b[3]||25));
const hasLines=hasTerms.join('\n').split('\n');
[[762.9,1011.4,563.3],[616,1013,604],[847,1011.4,643.3],[838.5,1010.3,684],[660.8,1010.3,722.3],[578,1010.3,763.3],[730.5,1013,804],[869.8,1013,844],[675.3,994,878.3,20],[675.3,1010.3,897.3,20],[872.5,1014,929.3]].forEach((b,i)=>T(hasLines[i],b[0],b[1],b[2]-1.5,b[3]||25));
R(592.7,962.3,820.1,32,{w:1.5,stroke:'#333'});
R(602,970,18.5,18,{fill:'#f08024',w:2.5});T('positive z-score',635,772.6,976,25);
R(784.4,970,18.5,18,{fill:'#4f57ac',w:2.5});T('negative z-score',817.4,963,977,25);
R(984,970,18.5,18,{fill:'#fff',w:2.5});T('z-score = 0',1017,1116.7,977,25);
R(1133,970,18.5,18,{fill:'#c0c0c0',w:2.5});T('no activity',1167,1255,977,25);
L(1274,979,1305,979,{w:3.5,color:'#f39a2a',dash:[5,5]});T('Threshold',1320,1407,977,25);
// E left
RT([['WT-saline vs WT-OVA - FDR p-value (log','n'],['10','b'],[')','n']],28,574.6,1085,27,{weight:'bold'});
RT([['WT-saline vs Has2','n'],['+/-','s'],['-OVA - FDR p-value (log','n'],['10','b'],[')','n']],631,1716-1126+631,1126,27,{weight:'bold',rot:-Math.PI/2});
T('Ern2',332,386,1250,31,{italic:true});T('Xbp1',321,384,1294,31,{italic:true});
T('Igkv2-109',434,555,1337,31,{italic:true});T('Ighv2-6',19.5,107.5,1519,31,{italic:true});
[61.4,228,392.7,562.4].forEach((x,i)=>TC(outerTicks[i],x,1123,27));
[1308,1472,1635].forEach((y,i)=>T(outerTicks[2-i],577,609,y,27));
TC(outerTicks[3],589,1143,27);
[748.6,864.4,982,1103.5,1221].forEach((x,i)=>TC(insetXTicks[i],x,1127,26));
[[1241.7,1149],[1244.6,1267],[1244.6,1387],[1245.5,1505],[1245.5,1625]].forEach((b,i)=>TC(insetYTicks[i],b[0],b[1],26));
// connector dashes
L(572.4,1137,678.6,1031,{color:PURPLE,w:2,dash:[10,6]});
L(563.7,1252,613.6,1460,{color:PURPLE,w:2,dash:[12,6]});
L(646,1578,676.5,1703,{color:PURPLE,w:2,dash:[12,6]});
R(677.5,1031,735.5,671.7,{stroke:PURPLE,w:4.5,dash:[13,5]});
// inset labels
const red='#ed1c24';
const ital=(s,a,b,y,c)=>T(s,a,b,y-2,31,{italic:true,color:c||INK});
ital('Spink5',775.8,855.8,1059);ital('Herpud1',879.6,980.6,1058,red);
ital('ATF4',995,1060.7,1058);ital('DDIT3',1077,1153.6,1058);ital('EIF2AK4',1172.6,1280,1058);
ital('Keap1',1284.6,1358.4,1110.7);ital('EIF2AK1',1283.6,1389.4,1141.7);ital('EIF2AK2',1283.6,1389.4,1173);ital('ATF6',1285.5,1350,1201.7);
ital('EIF2AK3',785.3,891.5,1178);ital('Ern1',785.3,839,1233);ital('Hspa5',1285.5,1361.8,1241.7);
ital('Ppp1r15a',1285.5,1400.4,1294);ital('Nfe2l2',1288,1364.6,1338.3);
ital('Pmvk',1141.7,1208.4,1437.3);ital('Hspa1a',1108.3,1201.2,1530,red);ital('DNAJB1',1107.4,1208.4,1651.7,red);
[[822.5,1075,994,1152.7],[931,1075,1087.8,1176.7],[1032,1077.3,1086.9,1116.7],[1118.8,1138.3,1137.8,1152.7],[1119.3,1077.3,1189.3,1146.7],[1210.7,1075,1208.3,1152.7],[1280.8,1116.7,1255,1135],[1277.4,1147.7,1255,1150],[1276,1175,1255,1165.7],[1276,1201.7,1254,1180.7],[894.9,1178.3,1049.7,1218.3],[1091.6,1219,1278.9,1241.7],[841.5,1235,984.9,1290],[1210.7,1279.3,1277.4,1296],[1116.9,1317.3,1278.9,1337.3]].forEach(a=>L(a[0],a[1],a[2],a[3],{w:1.3}));
// bottom legend
C(67.6,1753,17.2,17.8,'#b3b3b8');T('Genes detected by RNA-seq analysis',101.8,484.4,1752,25);
C(67.6,1793.5,17.2,17.8,'#f9a03f');T('Major genes associated with ER stress response',103.6,602.7,1791,25);
C(645.6,1753,17.2,17.8,'#72cfe0');T('Genes associated with EIF2 signal detected in WT-OVA unique genes',677,1397.5,1751,25);
C(645.6,1793.5,17.2,17.8,'#ef3f46');RT([['Differentially expressed genes between WT-OVA and ','n'],['Has2','i'],['+/-','s'],['-OVA','n']],683,1364.6,1791,25);

const chart=echarts.init(document.getElementById('c'),null,{renderer:'canvas',width:1417,height:1812});
chart.setOption({animation:false,backgroundColor:'#fff',
  grid:grids,xAxis:xAxes,yAxis:yAxes,series,
  visualMap:[{type:'continuous',min:0,max:1,seriesIndex:[0,1],calculable:false,hoverLink:false,orient:'horizontal',left:106.3,top:315,itemWidth:18,itemHeight:299,text:null,
    textStyle:{color:'rgba(0,0,0,0)',fontSize:1},inRange:{color:['#3953a4','#8585c2','#ffffff','#f58f93','#ed1c24']}}],
  graphic:{elements:G}});
</script></body></html>
